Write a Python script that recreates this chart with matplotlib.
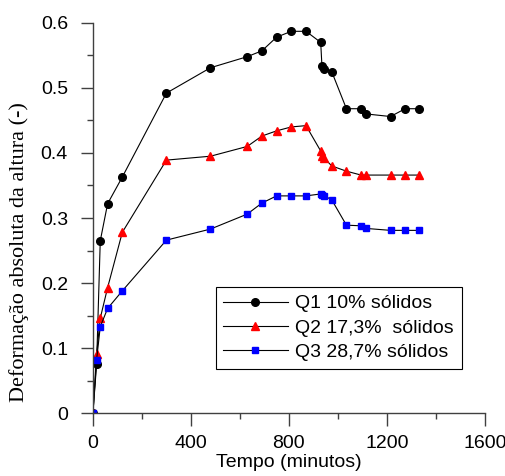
import matplotlib.pyplot as plt
from matplotlib.ticker import MultipleLocator

# ======= DADOS ======= #

tempo = [0, 15, 30, 60, 120, 300, 480, 630, 690, 750, 810, 870,
         930, 935, 945, 975, 1035, 1095, 1115, 1215, 1275, 1330]

q1 = [0, 0.075, 0.265, 0.322, 0.363, 0.492, 0.531, 0.548, 0.557, 0.578, 0.587, 0.587,
      0.570, 0.534, 0.529, 0.525, 0.468, 0.468, 0.460, 0.456, 0.468, 0.468]
q2 = [0, 0.091, 0.146, 0.193, 0.278, 0.389, 0.395, 0.410, 0.426, 0.434, 0.440, 0.442,
      0.403, 0.396, 0.392, 0.380, 0.372, 0.366, 0.366, 0.366, 0.366, 0.366]
q3 = [0, 0.082, 0.133, 0.161, 0.188, 0.266, 0.283, 0.306, 0.323, 0.334, 0.334, 0.334,
      0.337, 0.335, 0.334, 0.328, 0.289, 0.288, 0.284, 0.281, 0.281, 0.281]

rotulos = ['Q1 10% sólidos', 'Q2 17,3%  sólidos', 'Q3 28,7% sólidos']

# ======= GRAFICO ======= #

plt.rcParams['font.family'] = 'Liberation Sans'

fig = plt.figure(figsize=(5.05, 4.76), dpi=100)
ax = fig.add_axes([0.184, 0.132, 0.776, 0.820])

ax.plot(tempo, q1, color='black', lw=0.8, marker='o', ms=5.5, mec='black', mfc='black', label=rotulos[0])
ax.plot(tempo, q2, color='black', lw=0.8, marker='^', ms=6, mec='red', mfc='red', label=rotulos[1])
ax.plot(tempo, q3, color='black', lw=0.8, marker='s', ms=5, mec='blue', mfc='blue', label=rotulos[2])

ax.set_xlim(0, 1600)
ax.set_ylim(0, 0.6)
ax.xaxis.set_major_locator(MultipleLocator(400))
ax.xaxis.set_minor_locator(MultipleLocator(200))
ax.yaxis.set_minor_locator(MultipleLocator(0.05))
ax.set_yticks([0, 0.1, 0.2, 0.3, 0.4, 0.5, 0.6])
ax.set_yticklabels(['0', '0.1', '0.2', '0.3', '0.4', '0.5', '0.6'])

for s in ['top', 'right']:
    ax.spines[s].set_visible(False)
for s in ['left', 'bottom']:
    ax.spines[s].set_color('#404040')
    ax.spines[s].set_linewidth(1.0)

ax.tick_params(which='major', direction='out', length=9, width=1.0, color='#404040',
               labelsize=14)
ax.tick_params(axis='y', which='major', pad=9)
ax.tick_params(axis='x', which='major', pad=7)
ax.tick_params(which='minor', direction='out', length=4.5, width=1.0, color='#404040')

ax.set_xlabel('Tempo (minutos)', fontsize=14, labelpad=1)
ax.set_ylabel('Deformação absoluta da altura (-)', fontsize=16,
              family='Liberation Serif')
ax.yaxis.set_label_coords(-0.163, 0.413)

leg = ax.legend(loc='lower left', bbox_to_anchor=(0.313, 0.113), fontsize=14,
                handlelength=3.3, fancybox=False, framealpha=1, edgecolor='black',
                borderpad=0.4, labelspacing=0.35, handletextpad=0.4, borderaxespad=0)
leg.get_frame().set_linewidth(0.8)

fig.savefig('out.png', dpi=100)
